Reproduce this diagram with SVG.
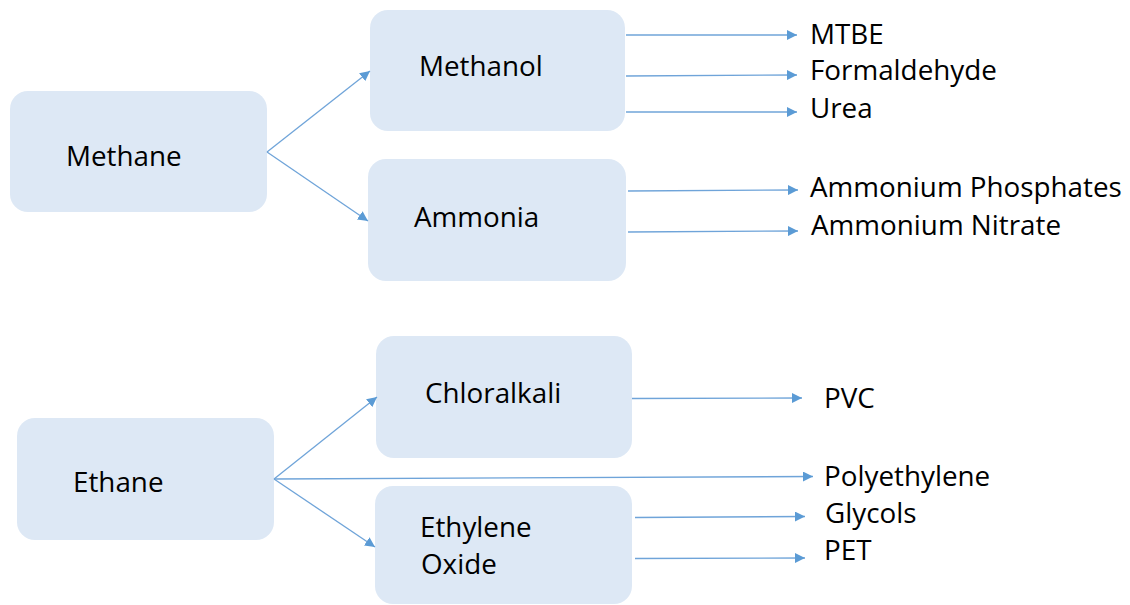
<svg xmlns="http://www.w3.org/2000/svg" width="1130" height="605" viewBox="0 0 1130 605">
  <defs>
    <marker id="arrow" viewBox="0 0 10 10" refX="10" refY="5" markerWidth="10" markerHeight="10" markerUnits="userSpaceOnUse" orient="auto">
      <path d="M0,0 L10,5 L0,10 Z" fill="#5b9bd5"/>
    </marker>
    <style>
      .box { fill: #dde8f5; }
      .lbl { font-family: "Open Sans", "Liberation Sans", sans-serif; font-size: 27.8px; fill: #000; }
      .conn line { stroke: #6fa4d9; stroke-width: 1.3; marker-end: url(#arrow); }
    </style>
  </defs>
  <rect width="1130" height="605" fill="#fff"/>

  <!-- feedstocks and intermediates -->
  <g id="methane"><rect class="box" x="10" y="91" width="257" height="121" rx="18"/><text class="lbl" x="66" y="165.5">Methane</text></g>
  <g id="methanol"><rect class="box" x="370" y="10" width="255" height="121" rx="18"/><text class="lbl" x="419" y="75.5">Methanol</text></g>
  <g id="ammonia"><rect class="box" x="368" y="159" width="258" height="122" rx="18"/><text class="lbl" x="414" y="226.5">Ammonia</text></g>
  <g id="chloralkali"><rect class="box" x="376" y="336" width="256" height="122" rx="18"/><text class="lbl" x="425" y="402.5">Chloralkali</text></g>
  <g id="ethane"><rect class="box" x="17" y="418" width="257" height="122" rx="18"/><text class="lbl" x="73" y="492">Ethane</text></g>
  <g id="ethylene-oxide"><rect class="box" x="375" y="486" width="257" height="118" rx="18"/><text class="lbl" x="420" y="536.5">Ethylene</text><text class="lbl" x="421" y="574">Oxide</text></g>

  <!-- end products -->
  <g id="products">
    <text class="lbl" x="810" y="43.5">MTBE</text>
    <text class="lbl" x="810" y="80">Formaldehyde</text>
    <text class="lbl" x="810" y="118">Urea</text>
    <text class="lbl" x="810" y="196.5">Ammonium Phosphates</text>
    <text class="lbl" x="811" y="235">Ammonium Nitrate</text>
    <text class="lbl" x="824" y="408">PVC</text>
    <text class="lbl" x="824" y="486">Polyethylene</text>
    <text class="lbl" x="825" y="523">Glycols</text>
    <text class="lbl" x="824" y="560">PET</text>
  </g>

  <g class="conn" id="connectors">
    <line x1="267" y1="152" x2="370" y2="71"/>
    <line x1="267" y1="152" x2="368" y2="221"/>
    <line x1="626" y1="35" x2="797" y2="35"/>
    <line x1="626" y1="76" x2="797" y2="75"/>
    <line x1="626" y1="112" x2="797" y2="112"/>
    <line x1="628" y1="191" x2="798" y2="190"/>
    <line x1="628" y1="232" x2="798" y2="231"/>
    <line x1="274" y1="479" x2="377" y2="397"/>
    <line x1="274" y1="479" x2="375" y2="547"/>
    <line x1="274" y1="479" x2="813" y2="476.5"/>
    <line x1="632" y1="398.5" x2="802" y2="398"/>
    <line x1="635" y1="517.5" x2="805" y2="516.5"/>
    <line x1="635" y1="558.5" x2="805" y2="558"/>
  </g>
</svg>
